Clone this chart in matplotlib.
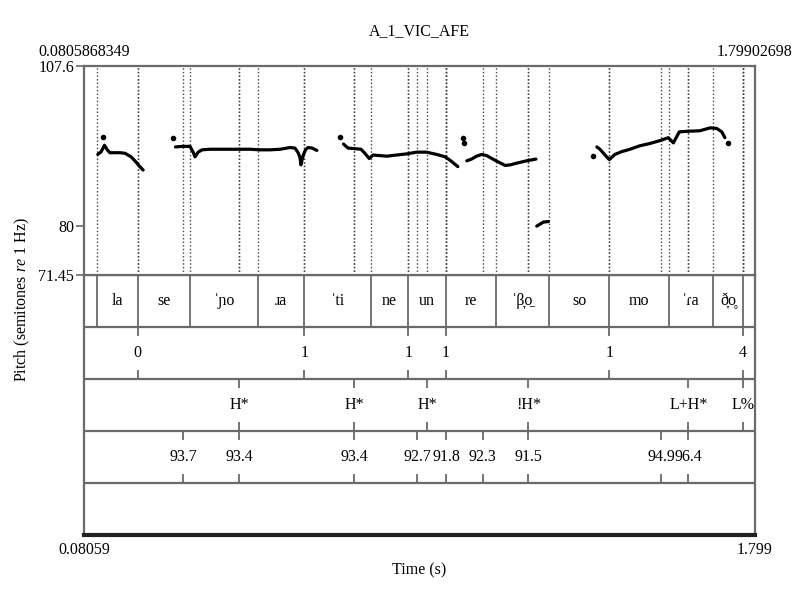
import numpy as np
import matplotlib
matplotlib.use('Agg')
from matplotlib import pyplot as plt

plt.rcParams['font.family'] = ['Liberation Serif', 'DejaVu Serif']
plt.rcParams['mathtext.fontset'] = 'custom'
plt.rcParams['mathtext.rm'] = 'Liberation Serif'
plt.rcParams['mathtext.it'] = 'Liberation Serif:italic'

t_start = 0.0805868349
t_end = 1.79902698
st_min = 71.45
st_max = 107.6

# pitch contour (s, semitones re 1 Hz)
seg1_t = [0.116, 0.119, 0.124, 0.133, 0.140, 0.147, 0.160, 0.173, 0.186, 0.193, 0.201, 0.211, 0.221, 0.232]
seg1_st = [92.3, 92.5, 92.7, 93.9, 93.1, 92.6, 92.6, 92.6, 92.5, 92.2, 91.9, 91.2, 90.4, 89.6]
seg2_t = [0.315, 0.334, 0.352, 0.360, 0.365, 0.373, 0.383, 0.403, 0.442, 0.475, 0.506, 0.531,
          0.557, 0.583, 0.608, 0.621, 0.629, 0.634, 0.636, 0.642, 0.648, 0.654, 0.665, 0.677]
seg2_st = [93.6, 93.7, 93.7, 92.7, 91.9, 92.7, 93.1, 93.2, 93.2, 93.2, 93.2, 93.1,
           93.1, 93.2, 93.5, 93.4, 92.6, 91.7, 90.5, 92.2, 93.1, 93.5, 93.4, 93.0]
seg3_t = [0.745, 0.757, 0.775, 0.790, 0.800, 0.811, 0.821, 0.856, 0.881, 0.907,
          0.933, 0.958, 0.984, 1.005, 1.018, 1.038]
seg3_st = [94.1, 93.4, 93.3, 93.2, 92.5, 91.6, 92.2, 92.0, 92.2, 92.4,
           92.7, 92.7, 92.3, 91.9, 91.3, 90.2]
seg4_t = [1.061, 1.073, 1.086, 1.099, 1.112, 1.133, 1.159, 1.172, 1.189, 1.214, 1.238]
seg4_st = [91.2, 91.5, 92.0, 92.3, 92.1, 91.3, 90.4, 90.5, 90.8, 91.2, 91.5]
seg5_t = [1.240, 1.257, 1.270]
seg5_st = [79.9, 80.6, 80.7]
seg6_t = [1.394, 1.402, 1.415, 1.426, 1.440, 1.458, 1.479, 1.504, 1.530, 1.556, 1.577,
          1.590, 1.605, 1.624, 1.658, 1.684, 1.701, 1.714, 1.722]
seg6_st = [93.6, 93.2, 92.2, 91.4, 92.3, 92.8, 93.2, 93.8, 94.2, 94.7, 95.2,
           94.3, 96.2, 96.3, 96.4, 96.9, 96.8, 96.2, 95.2]
dots_t = [0.129, 0.309, 0.736, 1.050, 1.054, 1.385, 1.731]
dots_st = [95.3, 95.2, 95.4, 95.1, 94.3, 92.1, 94.2]

# tier 1: syllables
syl_bounds = [0.1147, 0.2181, 0.3520, 0.5269, 0.6447, 0.8148, 0.9111, 1.0076,
              1.1356, 1.2721, 1.4258, 1.5779, 1.6921, 1.7689]
syl_labels = ['la', 'se', 'ˈɲo', 'ɹa', 'ˈti', 'ne', 'un', 're', 'ˈβ̞o̠',
              'so', 'mo', 'ˈɾa', 'ð̞o̥']
# tier 2: break indices
brk_t = [0.2181, 0.6447, 0.9111, 1.0076, 1.4258, 1.7689]
brk_labels = ['0', '1', '1', '1', '1', '4']
# tier 3: tones
tone_t = [0.4775, 0.7720, 0.9602, 1.2184, 1.6286, 1.7689]
tone_labels = ['H*', 'H*', 'H*', '!H*', 'L+H*', 'L%']
# tier 4: pitch values
val_t = [0.3341, 0.4775, 0.7720, 0.9346, 1.0076, 1.1016, 1.2184, 1.5595, 1.6286]
val_labels = ['93.7', '93.4', '93.4', '92.7', '91.8', '92.3', '91.5', '94.9', '96.4']

W, H = 800, 607
fig = plt.figure(figsize=(W / 100, H / 100), dpi=100)
L, R = 84 / W, 755 / W
top_p, bot_p, bot_t = 66, 275, 535
ax = fig.add_axes([L, 1 - bot_p / H, R - L, (bot_p - top_p) / H])
tg = fig.add_axes([L, 1 - bot_t / H, R - L, (bot_t - bot_p) / H])

gray = '#6a6a6a'
fs = 11.5

# pitch panel
for bt in [syl_bounds, brk_t, tone_t, val_t]:
    ax.vlines(bt, st_min, st_max, colors='#444444', linestyles=(0, (1, 1.6)), linewidth=1.0)
for xs, ys in [(seg1_t, seg1_st), (seg2_t, seg2_st), (seg3_t, seg3_st),
               (seg4_t, seg4_st), (seg5_t, seg5_st), (seg6_t, seg6_st)]:
    ax.plot(xs, ys, color='black', linewidth=2.3, solid_capstyle='round')
ax.plot(dots_t, dots_st, 'o', color='black', markersize=3.0)
ax.set_xlim(t_start, t_end)
ax.set_ylim(st_min, st_max)
ax.set_xticks([])
ax.set_yticks([st_min, 80, st_max])
ax.set_yticklabels(['71.45', '80', '107.6'], fontsize=fs)
ax.tick_params(axis='y', length=6, width=1.2, color=gray, pad=1)
for side in ['left', 'right', 'top']:
    ax.spines[side].set_color(gray)
    ax.spines[side].set_linewidth(1.6)
ax.spines['bottom'].set_visible(False)
ax.text(0, 1.03, '0.0805868349', transform=ax.transAxes, ha='center', va='bottom', fontsize=fs)
ax.text(1, 1.03, '1.79902698', transform=ax.transAxes, ha='center', va='bottom', fontsize=fs)
ax.set_title('A_1_VIC_AFE', fontsize=fs, pad=22)

# textgrid panel, each tier is one unit high
tg.set_xlim(t_start, t_end)
tg.set_ylim(0, 5)
tg.set_xticks([])
tg.set_yticks([])
tg.hlines([1, 2, 3, 4, 5], t_start, t_end, colors=gray, linewidth=1.6)
for side in ['left', 'right', 'top']:
    tg.spines[side].set_color(gray)
    tg.spines[side].set_linewidth(1.6)
tg.spines['bottom'].set_color('#222222')
tg.spines['bottom'].set_linewidth(3)

tg.vlines(syl_bounds, 4, 5, colors=gray, linewidth=1.3)
mids = [(a + b) / 2 for a, b in zip(syl_bounds[:-1], syl_bounds[1:])]
for m, lab in zip(mids, syl_labels):
    tg.text(m, 4.5, lab, ha='center', va='center', fontsize=fs)

tick = 0.17
for y0, times, labels in [(3, brk_t, brk_labels), (2, tone_t, tone_labels), (1, val_t, val_labels)]:
    tg.vlines(times, y0 + 1 - tick, y0 + 1, colors=gray, linewidth=1.3)
    tg.vlines(times, y0, y0 + tick, colors=gray, linewidth=1.3)
    for tt, lab in zip(times, labels):
        tg.text(tt, y0 + 0.5, lab, ha='center', va='center', fontsize=fs)

fig.text(L, 1 - 550 / H, '0.08059', ha='center', va='center', fontsize=fs)
fig.text(R, 1 - 550 / H, '1.799', ha='center', va='center', fontsize=fs)
fig.text((L + R) / 2, 1 - 570 / H, 'Time (s)', ha='center', va='center', fontsize=fs)
fig.text(22 / W, 1 - 300 / H, r'Pitch (semitones $\mathit{re}$ 1 Hz)', rotation=90,
         ha='center', va='center', fontsize=fs)

fig.savefig('out.png', dpi=100)
